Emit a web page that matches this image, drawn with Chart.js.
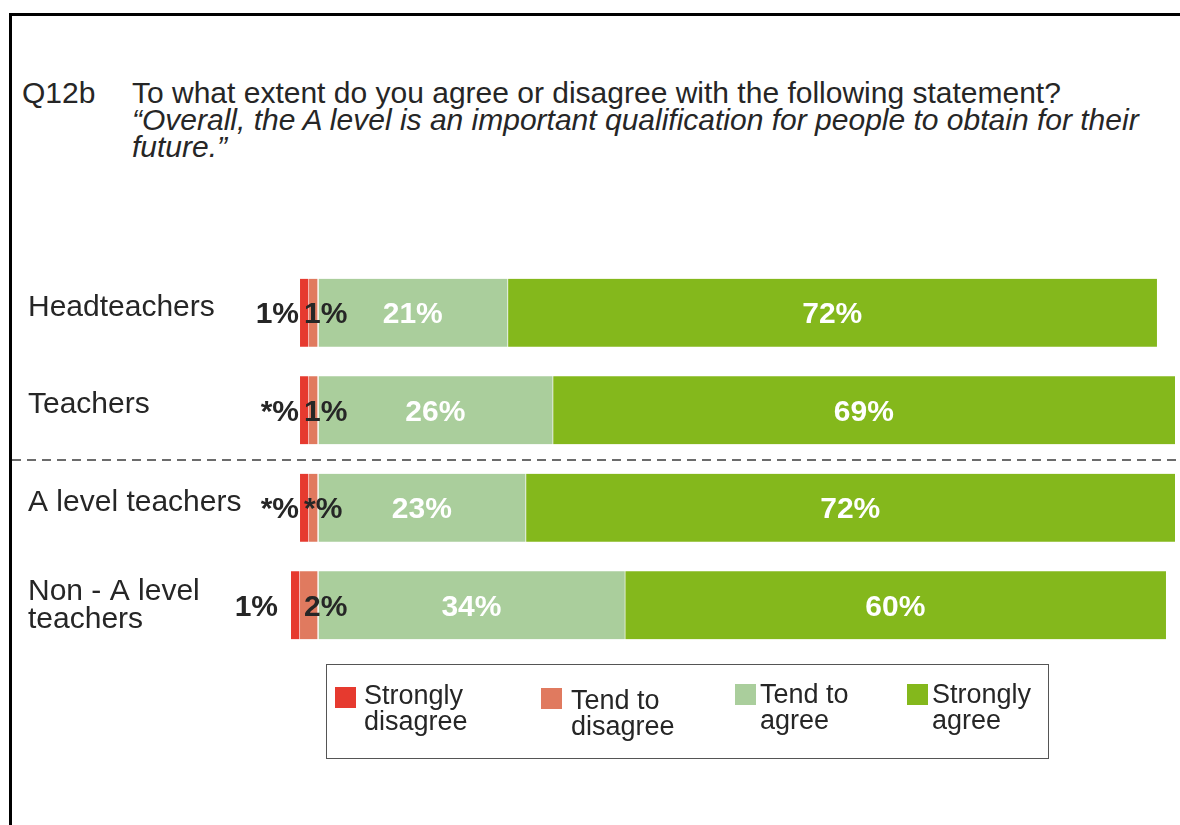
<!DOCTYPE html>
<html>
<head>
<meta charset="utf-8">
<script src="https://cdn.jsdelivr.net/npm/chart.js@4"></script>
<style>
  html, body { margin: 0; padding: 0; background: #fff; }
  body { width: 1180px; height: 825px; position: relative; overflow: hidden;
         font-family: "Liberation Sans", Arial, sans-serif; color: #262626; }
  #frame { position: absolute; left: 9px; top: 13px; width: 1180px; height: 830px;
           border-top: 3px solid #000; border-left: 3px solid #000; }
  .qnum { position: absolute; left: 22px; top: 79px; font-size: 30px; line-height: 27px; }
  .question { position: absolute; left: 132px; top: 79px; font-size: 30px; line-height: 27px; white-space: nowrap; }
  .question i { display: block; }
  #chartBox { position: absolute; left: 0; top: 0; width: 1180px; height: 825px; }
  #legend { position: absolute; left: 326px; top: 664px; width: 721px; height: 93px;
            border: 1px solid #555; }
  .item { position: absolute; font-size: 27px; line-height: 26px; }
  .item .sw { position: absolute; width: 21px; height: 21px; }
  .item .tx { position: absolute; white-space: nowrap; }
</style>
</head>
<body>
<div id="frame"></div>
<div class="qnum">Q12b</div>
<div class="question">To what extent do you agree or disagree with the following statement?
  <i>“Overall, the A level is an important qualification for people to obtain for their<br>future.”</i></div>

<div id="chartBox"><canvas id="myChart" width="1180" height="825"></canvas></div>

<div id="legend"></div>

<script>
// Kategori dan nilai (persen)
const categories = ['Headteachers', 'Teachers', 'A level teachers', 'Non - A level\nteachers'];
const stronglyDisagree = [1, 1, 1, 1];
const stronglyDisagreeLabels = ['1%', '*%', '*%', '1%'];
const tendToDisagree = [1, 1, 1, 2];
const tendToDisagreeLabels = ['1%', '1%', '*%', '2%'];
const tendToAgree = [21, 26, 23, 34];
const stronglyAgree = [72, 69, 72, 60];

const seriesNames = ['Strongly\ndisagree', 'Tend to\ndisagree', 'Tend to\nagree', 'Strongly\nagree'];
const seriesColors = ['#E63A2F', '#E07A5F', '#AACE9C', '#84B81C'];

// Legenda manual (HTML)
const legendPos = [
    { sw: [8, 22], tx: [37, 17] },
    { sw: [214, 23], tx: [244, 22] },
    { sw: [408, 19], tx: [433, 16] },
    { sw: [580, 19], tx: [605, 16] }
];
const legendEl = document.getElementById('legend');
seriesNames.forEach((name, i) => {
    const item = document.createElement('div');
    item.className = 'item';
    const p = legendPos[i];
    item.innerHTML = `<div class="sw" style="left:${p.sw[0]}px;top:${p.sw[1]}px;background:${seriesColors[i]}"></div>
                      <div class="tx" style="left:${p.tx[0]}px;top:${p.tx[1]}px">${name.replace('\n', '<br>')}</div>`;
    legendEl.appendChild(item);
});

// Plugin untuk label kategori, label nilai dan garis putus-putus
const labelPlugin = {
    id: 'labelPlugin',
    afterDatasetsDraw(chart) {
        const ctx = chart.ctx;
        const xs = chart.scales.x;
        const ys = chart.scales.y;
        ctx.save();

        // nama kategori di kiri
        ctx.font = '30px "Liberation Sans", Arial, sans-serif';
        ctx.fillStyle = '#262626';
        ctx.textAlign = 'left';
        ctx.textBaseline = 'alphabetic';
        categories.forEach((c, i) => {
            const lines = c.split('\n');
            const cy = ys.getPixelForValue(i);
            const first = cy + 3 - (lines.length - 1) * 8;
            lines.forEach((l, j) => ctx.fillText(l, 28, first + j * 28));
        });

        // garis putus-putus antara kelompok
        const dy = (ys.getPixelForValue(1) + ys.getPixelForValue(2)) / 2 + 1;
        ctx.strokeStyle = '#6b6b6b';
        ctx.lineWidth = 2;
        ctx.setLineDash([9, 6]);
        ctx.beginPath();
        ctx.moveTo(12, dy);
        ctx.lineTo(1180, dy);
        ctx.stroke();
        ctx.setLineDash([]);

        // label nilai
        ctx.font = 'bold 30px "Liberation Sans", Arial, sans-serif';
        ctx.textBaseline = 'middle';
        const zero = xs.getPixelForValue(0);
        chart.data.datasets.forEach((ds, di) => {
            const meta = chart.getDatasetMeta(di);
            meta.data.forEach((bar, j) => {
                const left = Math.min(bar.x, bar.base);
                const right = Math.max(bar.x, bar.base);
                const cy = bar.y + 2;
                if (ds.key === 'sd') {
                    ctx.fillStyle = '#262626';
                    ctx.textAlign = 'right';
                    ctx.fillText(stronglyDisagreeLabels[j], left - (j === 3 ? 13 : 1), cy);
                } else if (ds.key === 'td') {
                    ctx.fillStyle = '#262626';
                    ctx.textAlign = 'left';
                    ctx.fillText(tendToDisagreeLabels[j], zero - 14, cy);
                } else {
                    ctx.fillStyle = '#ffffff';
                    ctx.textAlign = 'center';
                    ctx.fillText(ds.data[j] + '%', (left + right) / 2, cy);
                }
            });
        });
        ctx.restore();
    }
};

const ctx = document.getElementById('myChart').getContext('2d');
const myChart = new Chart(ctx, {
    type: 'bar',
    data: {
        labels: categories,
        datasets: [
            { key: 'td', label: 'Tend to disagree', data: tendToDisagree.map(v => -v), backgroundColor: seriesColors[1] },
            { key: 'sd', label: 'Strongly disagree', data: stronglyDisagree.map(v => -v), backgroundColor: seriesColors[0] },
            { key: 'ta', label: 'Tend to agree', data: tendToAgree, backgroundColor: seriesColors[2] },
            { key: 'sa', label: 'Strongly agree', data: stronglyAgree, backgroundColor: seriesColors[3] }
        ]
    },
    options: {
        indexAxis: 'y',
        responsive: false,
        animation: false,
        devicePixelRatio: 1,
        layout: { padding: { left: 291, right: 5, top: 264, bottom: 171 } },
        datasets: {
            bar: {
                barThickness: 68,
                borderColor: '#ffffff',
                borderWidth: { left: 1, right: 1, top: 0, bottom: 0 },
                borderSkipped: 'end'
            }
        },
        scales: {
            x: { stacked: true, min: -3, max: 95, display: false },
            y: { stacked: true, display: false }
        },
        plugins: {
            legend: { display: false },
            tooltip: { enabled: false }
        }
    },
    plugins: [labelPlugin]
});
</script>
</body>
</html>
